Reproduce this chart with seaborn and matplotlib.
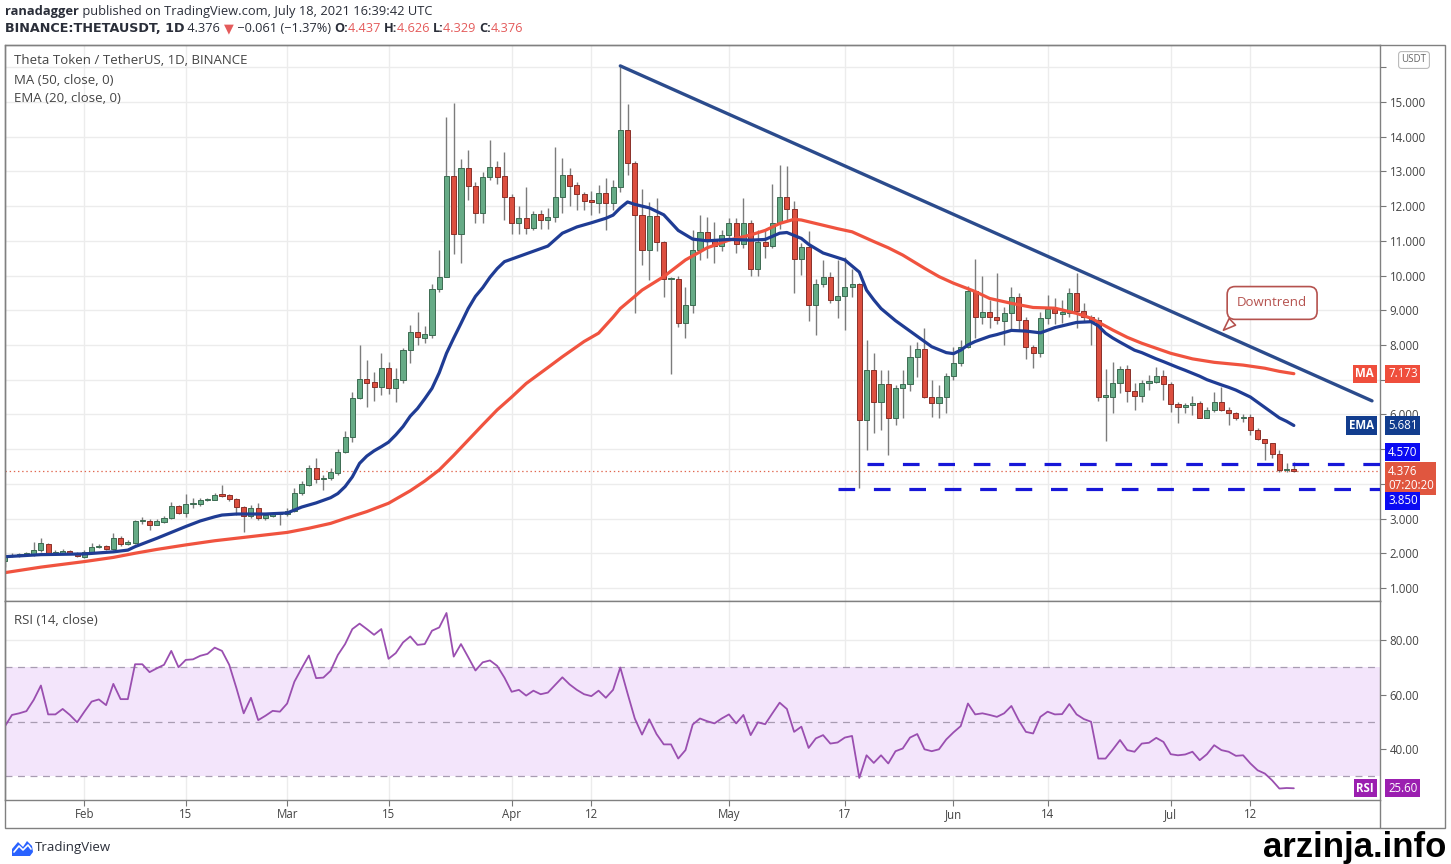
import matplotlib
matplotlib.use("Agg")
import matplotlib.pyplot as plt
import matplotlib.dates as mdates
import matplotlib.transforms as mtransforms
from matplotlib.patches import Rectangle, Polygon
from matplotlib.lines import Line2D
import numpy as np
import pandas as pd
import seaborn as sns

# ---- data --------------------------------------------------------------
FIRST_DAY = "2021-01-21"

OPEN = [
    1.78, 1.92, 1.95, 1.97, 1.97, 2.10, 2.27, 2.00, 2.00, 2.06, 2.00,
    1.90, 2.05, 2.17, 2.20, 2.12, 2.43, 2.28, 2.30, 2.92, 2.93, 2.82, 2.90, 3.01, 3.35,
    3.17, 3.41, 3.41, 3.53, 3.54, 3.70, 3.68, 3.56, 3.34, 3.08, 3.30, 3.01, 3.08, 3.12,
    3.12, 3.22, 3.73, 3.97, 4.45, 4.13, 4.16, 4.30, 4.93, 5.36, 6.46, 7.02, 6.92, 6.80,
    7.33, 6.75, 7.00, 7.86, 8.38, 8.20, 8.30, 9.60, 9.97, 12.88, 11.20, 13.10, 12.58,
    11.79, 12.83, 13.12, 12.88,
    12.27, 11.50, 11.65, 11.36, 11.77, 11.60, 11.69, 12.27, 12.90, 12.60, 12.34, 12.18,
    12.10, 12.39, 12.10, 12.56, 14.20, 13.25, 11.74, 10.75, 11.72, 10.98, 9.89, 9.90,
    8.62, 9.15, 10.73, 11.26, 11.04, 10.85,
    11.17, 11.50, 10.90, 11.50, 10.18, 10.98, 10.86, 11.50, 12.27, 11.93, 10.47, 10.83,
    9.15, 9.77, 9.97, 9.31, 9.42, 9.68, 9.77, 5.84, 7.28, 6.37, 6.88, 5.89, 6.75, 6.88,
    7.64, 7.87, 6.51, 6.32, 6.51,
    7.10, 7.47, 7.93, 9.56, 8.82, 8.96, 8.82, 8.70, 8.91, 9.37, 8.72, 7.93, 7.78, 8.77,
    9.03, 8.90, 8.93, 9.51, 8.99, 8.82, 8.72, 6.51, 6.51, 6.90, 7.30, 6.66, 6.53, 6.91,
    6.92, 7.10,
    6.89, 6.30, 6.22, 6.26, 6.32, 5.91, 6.13, 6.35, 6.13, 6.05, 5.89, 5.93, 5.55, 5.28,
    5.17, 4.86, 4.40, 4.437,
]
HIGH = [
    1.98, 2.02, 2.02, 2.05, 2.33, 2.43, 2.30, 2.08, 2.13, 2.10, 2.03,
    2.10, 2.30, 2.28, 2.25, 2.58, 2.50, 2.37, 2.95, 3.05, 3.00, 2.98, 3.08, 3.47, 3.40,
    3.70, 3.58, 3.60, 3.58, 3.73, 3.98, 3.72, 3.60, 3.36, 3.38, 3.45, 3.15, 3.18, 3.17,
    3.30, 3.87, 4.09, 4.54, 4.73, 4.24, 4.45, 5.01, 5.51, 6.65, 8.00, 7.57, 7.22, 7.76,
    7.50, 7.33, 7.90, 8.57, 8.94, 8.55, 9.75, 10.74, 14.58, 14.96, 13.35, 13.62, 12.70,
    12.98, 13.90, 13.30, 13.55,
    12.35, 12.00, 12.55, 11.85, 11.90, 11.95, 13.71, 13.40, 13.10, 12.70, 12.40, 12.45,
    12.60, 12.80, 12.75, 16.00, 14.95, 13.30, 12.50, 12.13, 12.22, 11.00, 9.95, 9.98,
    9.68, 11.31, 11.74, 11.70, 11.55, 11.30,
    11.65, 11.65, 12.22, 11.60, 11.30, 11.31, 12.64, 13.18, 13.16, 12.16, 10.93, 11.27,
    9.90, 10.45, 10.10, 10.45, 10.54, 10.20, 9.78, 8.14, 7.76, 7.28, 7.28, 6.85, 7.28,
    8.00, 8.10, 8.48, 7.00, 6.85, 7.20,
    7.95, 8.14, 9.70, 10.47, 9.99, 9.29, 10.06, 9.10, 9.68, 9.49, 8.80, 8.00, 8.95, 9.44,
    9.34, 9.30, 9.63, 10.06, 9.20, 8.85, 8.80, 7.30, 7.52, 7.38, 7.42, 6.90, 7.00, 7.13,
    7.37, 7.28,
    6.92, 6.37, 6.33, 6.53, 6.40, 6.20, 6.65, 6.80, 6.20, 6.06, 6.00, 6.00, 5.60, 5.30,
    5.18, 4.97, 4.60, 4.626,
]
LOW = [
    1.61, 1.88, 1.90, 1.92, 1.92, 2.05, 1.95, 1.96, 1.97, 1.97, 1.90,
    1.85, 2.02, 2.14, 2.10, 2.10, 2.20, 2.25, 2.28, 2.85, 2.68, 2.80, 2.88, 2.98, 3.12,
    3.03, 3.30, 3.35, 3.50, 3.52, 3.62, 3.50, 3.10, 2.62, 3.02, 2.95, 2.95, 3.05, 2.82,
    3.08, 3.20, 3.68, 3.95, 4.01, 3.82, 4.10, 4.25, 4.90, 5.20, 6.45, 6.22, 6.40, 6.55,
    6.60, 6.37, 6.90, 7.47, 8.00, 8.05, 8.20, 9.52, 9.95, 10.61, 10.35, 12.18, 11.50,
    11.50, 12.75, 12.65, 11.60,
    11.20, 11.20, 11.20, 11.30, 11.35, 11.35, 11.55, 11.80, 12.00, 11.90, 11.90, 11.75,
    11.80, 11.30, 11.90, 12.40, 12.90, 8.91, 10.30, 9.87, 10.70, 9.39, 7.16, 8.53,
    8.19, 8.91, 10.45, 10.50, 10.35, 10.70,
    11.00, 10.64, 10.80, 9.99, 9.99, 10.50, 10.80, 11.35, 11.60, 9.49, 10.02, 8.70,
    8.29, 9.68, 9.20, 8.77, 8.43, 9.39, 3.87, 4.97, 5.45, 5.55, 4.83, 5.69, 5.89,
    6.66, 7.09, 6.46, 5.93, 5.89, 6.03,
    6.99, 7.40, 7.90, 8.20, 8.60, 8.50, 8.60, 8.00, 8.40, 8.40, 7.61, 7.33, 7.66, 8.60,
    8.60, 8.62, 8.80, 8.48, 8.70, 8.00, 6.40, 5.22, 6.03, 6.61, 6.37, 6.13, 6.37, 6.70,
    6.90, 6.42,
    6.08, 5.74, 6.03, 5.98, 5.89, 5.90, 6.08, 6.10, 5.69, 5.85, 5.79, 5.41, 5.25, 4.69,
    4.73, 4.33, 4.35, 4.329,
]
CLOSE = [
    1.92, 1.95, 1.97, 1.99, 2.10, 2.30, 2.00, 2.02, 2.06, 2.00, 1.93,
    2.05, 2.17, 2.22, 2.12, 2.43, 2.27, 2.33, 2.92, 2.93, 2.82, 2.92, 3.01, 3.35, 3.17,
    3.41, 3.43, 3.53, 3.54, 3.68, 3.66, 3.55, 3.34, 3.08, 3.31, 3.01, 3.10, 3.14, 3.13,
    3.22, 3.73, 4.00, 4.45, 4.13, 4.16, 4.33, 4.93, 5.36, 6.46, 7.02, 6.90, 6.80, 7.33,
    6.75, 7.02, 7.86, 8.38, 8.22, 8.32, 9.60, 9.97, 12.88, 11.20, 13.09, 12.58, 11.79,
    12.83, 13.12, 12.83, 12.27,
    11.50, 11.65, 11.36, 11.77, 11.60, 11.68, 12.27, 12.90, 12.58, 12.34, 12.16, 12.11,
    12.39, 12.10, 12.56, 14.20, 13.25, 11.74, 10.75, 11.72, 10.98, 9.89, 9.90, 8.62,
    9.15, 10.73, 11.26, 11.04, 10.85, 11.17,
    11.50, 10.90, 11.50, 10.18, 10.98, 10.86, 11.50, 12.27, 11.91, 10.47, 10.83, 9.15,
    9.77, 9.97, 9.31, 9.42, 9.68, 9.77, 5.84, 7.28, 6.37, 6.88, 5.89, 6.75, 6.88,
    7.64, 7.87, 6.51, 6.32, 6.51, 7.10,
    7.47, 7.93, 9.56, 8.82, 8.96, 8.82, 8.72, 8.91, 9.37, 8.72, 7.93, 7.78, 8.77, 9.03,
    8.91, 8.95, 9.51, 8.99, 8.82, 8.67, 6.51, 6.52, 6.90, 7.30, 6.66, 6.53, 6.91, 6.93,
    7.10, 6.89,
    6.30, 6.22, 6.26, 6.32, 5.91, 6.13, 6.35, 6.13, 6.03, 5.89, 5.93, 5.55, 5.28, 5.19,
    4.86, 4.40, 4.44, 4.376,
]
RSI = [
    48.2, 52.5, 53.1, 53.9, 58.0, 63.3, 52.7, 52.7, 54.7, 52.5, 49.8,
    53.7, 57.4, 58.2, 56.1, 63.9, 58.3, 58.3, 71.1, 71.1, 68.2, 69.6, 70.9, 76.0, 70.0,
    72.7, 72.9, 74.2, 74.9, 77.2, 76.0, 70.9, 62.3, 53.1, 58.8, 50.6, 52.2, 54.0, 53.7,
    56.7, 64.7, 69.6, 74.3, 66.0, 66.2, 68.7, 74.5, 78.5, 84.0, 86.0, 84.0, 81.9, 84.0,
    73.1, 75.2, 79.1, 81.3, 78.2, 78.5, 83.4, 84.6, 89.9, 73.9, 78.5, 73.7, 68.8, 71.8,
    72.5, 70.5, 66.2,
    61.0, 61.7, 59.6, 61.4, 60.1, 60.7, 63.5, 66.3, 63.7, 61.7, 60.1, 59.4, 61.4, 58.8,
    61.7, 69.9, 60.4, 51.2, 45.3, 50.9, 45.5, 41.7, 41.7, 36.5, 39.6, 49.0, 51.2, 50.2,
    49.4, 51.2,
    52.7, 49.4, 52.5, 45.1, 49.8, 49.1, 53.1, 57.0, 54.7, 46.3, 48.2, 40.4, 43.9, 45.1,
    42.0, 42.4, 44.2, 44.8, 29.4, 37.7, 34.9, 37.7, 34.7, 39.2, 40.2, 44.2, 45.5, 39.9,
    39.2, 39.9, 43.5,
    46.1, 48.4, 56.7, 52.7, 53.1, 52.5, 51.8, 53.1, 55.8, 50.6, 46.3, 45.7, 51.8, 53.7,
    52.7, 52.8, 56.5, 52.7, 51.0, 50.0, 36.5, 36.5, 39.8, 43.3, 39.6, 39.0, 42.0, 42.3,
    44.1, 42.6,
    38.1, 37.7, 38.0, 39.0, 35.9, 38.1, 41.4, 39.6, 39.0, 37.5, 37.7, 34.7, 32.2, 31.0,
    28.5, 25.5, 25.7, 25.6,
]

EMA_DATES = [
    "2021-01-21", "2021-01-26", "2021-02-01", "2021-02-05", "2021-02-07", "2021-02-08",
    "2021-02-09", "2021-02-11", "2021-02-13", "2021-02-15", "2021-02-17", "2021-02-19",
    "2021-02-20", "2021-02-22", "2021-02-24", "2021-02-26", "2021-03-01", "2021-03-03",
    "2021-03-05", "2021-03-07", "2021-03-08", "2021-03-09", "2021-03-10", "2021-03-11",
    "2021-03-12", "2021-03-13", "2021-03-14", "2021-03-15", "2021-03-16", "2021-03-17",
    "2021-03-18", "2021-03-19", "2021-03-20", "2021-03-21", "2021-03-22", "2021-03-23",
    "2021-03-24", "2021-03-25", "2021-03-26", "2021-03-27", "2021-03-28", "2021-03-29",
    "2021-03-30", "2021-03-31", "2021-04-02", "2021-04-04", "2021-04-06", "2021-04-08",
    "2021-04-10", "2021-04-12", "2021-04-14", "2021-04-15", "2021-04-16", "2021-04-17",
    "2021-04-18", "2021-04-20", "2021-04-22", "2021-04-24", "2021-04-26", "2021-04-28",
    "2021-05-01", "2021-05-04", "2021-05-06", "2021-05-08", "2021-05-09", "2021-05-11",
    "2021-05-12", "2021-05-14", "2021-05-17", "2021-05-19", "2021-05-20", "2021-05-21",
    "2021-05-22", "2021-05-24", "2021-05-25", "2021-05-27", "2021-05-29", "2021-05-31",
    "2021-06-01", "2021-06-02", "2021-06-03", "2021-06-04", "2021-06-06", "2021-06-07",
    "2021-06-09", "2021-06-11", "2021-06-13", "2021-06-15", "2021-06-16", "2021-06-18",
    "2021-06-20", "2021-06-21", "2021-06-22", "2021-06-23", "2021-06-24", "2021-06-26",
    "2021-06-27", "2021-06-29", "2021-06-30", "2021-07-02", "2021-07-03", "2021-07-05",
    "2021-07-06", "2021-07-08", "2021-07-09", "2021-07-10", "2021-07-12", "2021-07-14",
    "2021-07-16", "2021-07-17", "2021-07-18",
]
EMA_VALUES = [
    1.90, 1.96, 1.98, 2.04, 2.09, 2.19,
    2.27, 2.43, 2.60, 2.77, 2.93, 3.05,
    3.10, 3.13, 3.13, 3.13, 3.16, 3.33,
    3.45, 3.60, 3.72, 3.92, 4.20, 4.59,
    4.80, 4.95, 5.07, 5.20, 5.41, 5.65,
    5.95, 6.17, 6.45, 6.75, 7.20, 7.76,
    8.20, 8.62, 9.05, 9.40, 9.65, 9.95,
    10.20, 10.40, 10.55, 10.70, 10.85, 11.22,
    11.40, 11.52, 11.65, 11.74, 11.95, 12.12,
    12.05, 11.95, 11.75, 11.30, 11.05, 11.00,
    11.04, 11.02, 11.04, 11.22, 11.24, 11.07,
    10.90, 10.65, 10.45, 10.10, 9.58, 9.30,
    9.05, 8.70, 8.55, 8.25, 7.95, 7.78,
    7.75, 7.85, 8.00, 8.10, 8.25, 8.30,
    8.42, 8.40, 8.35, 8.50, 8.55, 8.65,
    8.67, 8.55, 8.34, 8.20, 8.08, 7.85,
    7.78, 7.60, 7.52, 7.35, 7.27, 7.10,
    7.00, 6.85, 6.78, 6.70, 6.50, 6.20,
    5.90, 5.80, 5.681,
]
MA_DATES = [
    "2021-01-21", "2021-01-26", "2021-02-01", "2021-02-05", "2021-02-08", "2021-02-11",
    "2021-02-15", "2021-02-19", "2021-02-24", "2021-03-01", "2021-03-04", "2021-03-07",
    "2021-03-09", "2021-03-12", "2021-03-15", "2021-03-18", "2021-03-20", "2021-03-22",
    "2021-03-24", "2021-03-26", "2021-03-28", "2021-03-30", "2021-04-01", "2021-04-03",
    "2021-04-06", "2021-04-08", "2021-04-11", "2021-04-13", "2021-04-15", "2021-04-16",
    "2021-04-18", "2021-04-19", "2021-04-22", "2021-04-25", "2021-04-28", "2021-05-01",
    "2021-05-04", "2021-05-06", "2021-05-08", "2021-05-10", "2021-05-11", "2021-05-14",
    "2021-05-16", "2021-05-18", "2021-05-21", "2021-05-23", "2021-05-25", "2021-05-28",
    "2021-05-30", "2021-06-01", "2021-06-04", "2021-06-06", "2021-06-09", "2021-06-12",
    "2021-06-15", "2021-06-18", "2021-06-20", "2021-06-23", "2021-06-25", "2021-06-27",
    "2021-07-01", "2021-07-04", "2021-07-07", "2021-07-11", "2021-07-14", "2021-07-16",
    "2021-07-18",
]
MA_VALUES = [
    1.44, 1.60, 1.76, 1.88, 2.00, 2.11,
    2.24, 2.36, 2.48, 2.60, 2.72, 2.86,
    3.00, 3.20, 3.44, 3.80, 4.08, 4.40,
    4.82, 5.26, 5.70, 6.13, 6.50, 6.89,
    7.35, 7.66, 8.10, 8.34, 8.80, 9.05,
    9.40, 9.58, 9.97, 10.45, 10.80, 11.02,
    11.17, 11.30, 11.50, 11.62, 11.60, 11.45,
    11.35, 11.26, 10.98, 10.80, 10.59, 10.21,
    9.97, 9.78, 9.54, 9.34, 9.20, 9.08,
    9.06, 8.91, 8.77, 8.43, 8.22, 8.05,
    7.76, 7.60, 7.50, 7.42, 7.33, 7.24,
    7.173,
]

TREND_DATES = ["2021-04-16 00:00", "2021-07-28 19:00"]
TREND_VALUES = [16.04, 6.39]
SUPPORT_LEVELS = [4.570, 3.850]
SUPPORT_START = ["2021-05-20", "2021-05-16"]
LAST_PRICE = 4.376
RSI_LAST = 25.60

PRICE_TICKS = list(range(1, 17))
HIDDEN_PRICE_LABELS = [4, 5, 7, 16]  # covered by the tags in the reference
RSI_TICKS = [40, 60, 80]
X_TICK_DATES = ["2021-02-01", "2021-02-15", "2021-03-01", "2021-03-15", "2021-04-01",
                "2021-04-12", "2021-05-01", "2021-05-17", "2021-06-01", "2021-06-14",
                "2021-07-01", "2021-07-12"]
X_TICK_LABELS = ["Feb", "15", "Mar", "15", "Apr", "12", "May", "17", "Jun", "14", "Jul", "12"]

# ---- style ---------------------------------------------------------------
UP, UP_EDGE = "#66ab86", "#3d6b52"
DOWN, DOWN_EDGE = "#dc4f3f", "#8a3029"
WICK = "#7c7c7c"
EMA_COLOR = "#1f3c94"
MA_COLOR = "#f0533f"
TREND_COLOR = "#2b4b8c"
SUPPORT_COLOR = "#1717d8"
RSI_COLOR = "#9a4fb0"
GRID = "#ececec"
FRAME = "#808080"
TEXT = "#444444"

sns.set_theme(style="white")
plt.rcParams["font.family"] = ["Open Sans", "DejaVu Sans"]
plt.rcParams["lines.scale_dashes"] = False

W, H = 1451, 864
fig = plt.figure(figsize=(W / 100, H / 100), dpi=100)
fig.patch.set_facecolor("white")


def fx(px):
    return px / W


def fy(py):
    return 1 - py / H


ax = fig.add_axes([fx(5), fy(601), fx(1380) - fx(5), fy(45) - fy(601)])
ax_rsi = fig.add_axes([fx(5), fy(800), fx(1380) - fx(5), fy(601) - fy(800)], sharex=ax)

days = mdates.date2num(pd.date_range(FIRST_DAY, periods=len(CLOSE), freq="D"))
o, h, l, c = (np.asarray(v, dtype=float) for v in (OPEN, HIGH, LOW, CLOSE))
assert len(o) == len(h) == len(l) == len(c) == len(RSI) == len(days)
assert len(EMA_DATES) == len(EMA_VALUES) and len(MA_DATES) == len(MA_VALUES)

# candles
up = c >= o
body = np.maximum(np.abs(c - o), 0.04)
bottom = np.minimum(o, c)
ax.vlines(days, l, h, color=WICK, lw=1.0, zorder=3)
ax.bar(days[up], body[up], bottom=bottom[up], width=0.7, color=UP,
       edgecolor=UP_EDGE, linewidth=0.7, zorder=4)
ax.bar(days[~up], body[~up], bottom=bottom[~up], width=0.7, color=DOWN,
       edgecolor=DOWN_EDGE, linewidth=0.7, zorder=4)

# moving averages
sns.lineplot(x=mdates.date2num(pd.to_datetime(MA_DATES)), y=MA_VALUES, ax=ax,
             color=MA_COLOR, linewidth=2.3, zorder=5)
sns.lineplot(x=mdates.date2num(pd.to_datetime(EMA_DATES)), y=EMA_VALUES, ax=ax,
             color=EMA_COLOR, linewidth=2.3, zorder=6)

x_left = mdates.date2num(pd.Timestamp("2021-01-21 01:00"))
x_right = mdates.date2num(pd.Timestamp("2021-07-29 21:30"))

# trend line and supports
sns.lineplot(x=mdates.date2num(pd.to_datetime(TREND_DATES)), y=TREND_VALUES, ax=ax,
             color=TREND_COLOR, linewidth=2.4, zorder=7)
for level, start in zip(SUPPORT_LEVELS, SUPPORT_START):
    ax.plot([mdates.date2num(pd.Timestamp(start)), x_right], [level, level],
            color=SUPPORT_COLOR, lw=2.3, ls=(0, (12, 13.5)), zorder=7, solid_capstyle="butt")
ax.axhline(LAST_PRICE, color="#e0674f", lw=0.9, ls=(0, (1, 2)), zorder=2)

ax.set_xlim(x_left, x_right)
ax.set_ylim(0.624, 16.642)
xt = mdates.date2num(pd.to_datetime(X_TICK_DATES))
ax.set_xticks(xt)
ax.yaxis.tick_right()
ax.set_yticks(PRICE_TICKS)
ax.set_yticklabels(["" if v in HIDDEN_PRICE_LABELS else f"{v:.3f}" for v in PRICE_TICKS])
ax.tick_params(axis="y", right=True, left=False, length=4, width=0.8, color="#777",
               labelsize=8.3, labelcolor=TEXT, pad=3)
ax.tick_params(axis="x", bottom=False, labelbottom=False)
ax.grid(True, color=GRID, lw=1)
ax.set_axisbelow(True)

# RSI panel
ax_rsi.axhspan(30, 70, fc="#f3e5fb", lw=0, zorder=1)
for lvl in (30, 50, 70):
    ax_rsi.axhline(lvl, color="#a89cb2", lw=0.9, ls=(0, (5, 4)), zorder=2)
sns.lineplot(x=days, y=RSI, ax=ax_rsi, color=RSI_COLOR, linewidth=1.3, zorder=4)
ax_rsi.set_ylim(21.3, 94.3)
ax_rsi.yaxis.tick_right()
ax_rsi.set_yticks(RSI_TICKS)
ax_rsi.set_yticklabels([f"{v:.2f}" for v in RSI_TICKS])
ax_rsi.set_xticks(xt)
ax_rsi.set_xticklabels(X_TICK_LABELS)
ax_rsi.tick_params(axis="y", right=True, left=False, length=4, width=0.8, color="#777",
                   labelsize=8.3, labelcolor=TEXT, pad=3)
ax_rsi.tick_params(axis="x", bottom=True, length=4, width=0.8, color="#777",
                   labelsize=8.3, labelcolor=TEXT, pad=2)
ax_rsi.grid(True, color=GRID, lw=1)
ax_rsi.set_axisbelow(True)

for a in (ax, ax_rsi):
    a.set_xlabel("")
    a.set_ylabel("")
    for sp in a.spines.values():
        sp.set_color(FRAME)
        sp.set_linewidth(1.0)


# axis tags
def tag(axis, y, text, fc, side="right", fontsize=8.3, weight="normal"):
    tr = mtransforms.blended_transform_factory(axis.transAxes, axis.transData)
    if side == "right":
        x, ha = 1 + 8 / 1375, "left"
    else:
        x, ha = 1 - 6 / 1375, "right"
    axis.text(x, y, text, transform=tr, ha=ha, va="center", color="white",
              fontsize=fontsize, fontweight=weight, clip_on=False, zorder=20,
              linespacing=1.15,
              bbox=dict(boxstyle="square,pad=0.22", fc=fc, ec="none"))


tag(ax, MA_VALUES[-1], f"{MA_VALUES[-1]:.3f}", "#ef4e3c")
tag(ax, MA_VALUES[-1], "MA", "#ef4e3c", side="left", weight="bold")
tag(ax, EMA_VALUES[-1], f"{EMA_VALUES[-1]:.3f}", "#123d8e")
tag(ax, EMA_VALUES[-1], "EMA", "#123d8e", side="left", weight="bold")
tag(ax, 4.916, f"{SUPPORT_LEVELS[0]:.3f}", "#0b0bf2")
tag(ax, 4.153, f"{LAST_PRICE:.3f}\n07:20:20", "#e0563f")
tag(ax, 3.505, f"{SUPPORT_LEVELS[1]:.3f}", "#0b0bf2")
tag(ax_rsi, RSI_LAST, f"{RSI_LAST:.2f}", "#9b1fb0")
tag(ax_rsi, RSI_LAST, "RSI", "#9b1fb0", side="left", weight="bold")

# callout
tip_x = mdates.date2num(pd.Timestamp("2021-07-08"))
box_x = mdates.date2num(pd.Timestamp("2021-07-15"))
ax.annotate("Downtrend", xy=(tip_x, 8.37), xytext=(box_x, 9.21), ha="center", va="center",
            fontsize=9.5, color="#b5524e", zorder=21,
            bbox=dict(boxstyle="round,pad=0.75,rounding_size=0.6", fc="white",
                      ec="#b5524e", lw=1.2),
            arrowprops=dict(arrowstyle="wedge,tail_width=0.7,shrink_factor=0.5",
                            fc="white", ec="#b5524e", lw=1.2, relpos=(0.12, 0.0)))

# legends inside panels
fig.text(fx(14), fy(61), "Theta Token / TetherUS, 1D, BINANCE", fontsize=9.5,
         color=TEXT, va="center")
fig.text(fx(14), fy(80), "MA (50, close, 0)", fontsize=9.5, color=TEXT, va="center")
fig.text(fx(14), fy(98), "EMA (20, close, 0)", fontsize=9.5, color=TEXT, va="center")
fig.text(fx(14), fy(620), "RSI (14, close)", fontsize=9.5, color=TEXT, va="center")
fig.text(fx(1414), fy(60), "USDT", fontsize=7, color="#666", ha="center", va="center",
         bbox=dict(boxstyle="round,pad=0.3,rounding_size=0.3", fc="white", ec="#bbbbbb", lw=0.8))

# header
renderer = fig.canvas.get_renderer()


def run(pieces, x0, y, size):
    x = x0
    for text, color, weight, family in pieces:
        t = fig.text(fx(x), fy(y), text, color=color, fontsize=size,
                     fontweight=weight, family=family, va="center", ha="left")
        x = t.get_window_extent(renderer).x1


RED = "#e45b5b"
DARK = "#2a2e39"
SANS = ["Open Sans", "DejaVu Sans"]
WIDE = ["DejaVu Sans"]
run([("ranadagger", DARK, "bold", SANS),
     (" published on TradingView.com, July 18, 2021 16:39:42 UTC", DARK, "normal", SANS)],
    5, 11, 9.3)
run([("BINANCE:THETAUSDT, 1D", DARK, "bold", WIDE), (" 4.376 ", DARK, "normal", SANS),
     ("\u25bc", RED, "normal", SANS), (" \u22120.061 (\u22121.37%) ", DARK, "normal", SANS),
     ("O:", DARK, "bold", SANS), ("4.437 ", RED, "normal", SANS), ("H:", DARK, "bold", SANS),
     ("4.626 ", RED, "normal", SANS), ("L:", DARK, "bold", SANS),
     ("4.329 ", RED, "normal", SANS), ("C:", DARK, "bold", SANS),
     ("4.376", RED, "normal", SANS)], 5, 29, 9.2)

# outer frame and footer
fig.add_artist(Rectangle((fx(5), fy(828)), fx(1445) - fx(5), fy(45) - fy(828),
                         transform=fig.transFigure, fill=False, ec=FRAME, lw=1.0))
fig.add_artist(Line2D([fx(1380), fx(1380)], [fy(800), fy(828)], transform=fig.transFigure,
                      color=FRAME, lw=1.0))
logo = [(12, 856), (12, 849), (18, 842), (23, 847), (27, 841), (32, 846), (33, 852), (30, 856)]
fig.add_artist(Polygon([(fx(px), fy(py)) for px, py in logo], closed=True,
                       transform=fig.transFigure, fc="#2962ff", ec="none"))
fig.add_artist(Line2D([fx(14), fx(19), fx(23), fx(28), fx(31)],
                      [fy(852), fy(846), fy(850), fy(845), fy(849)],
                      transform=fig.transFigure, color="white", lw=1.2))
fig.text(fx(35), fy(848), "TradingView", fontsize=9.5, color=DARK, va="center")
fig.text(fx(1446), fy(847), "arzinja.info", fontsize=25, fontweight="bold",
         family=["Liberation Sans", "DejaVu Sans"], color="black", ha="right", va="center")

fig.savefig("out.png", dpi=100, facecolor="white")
